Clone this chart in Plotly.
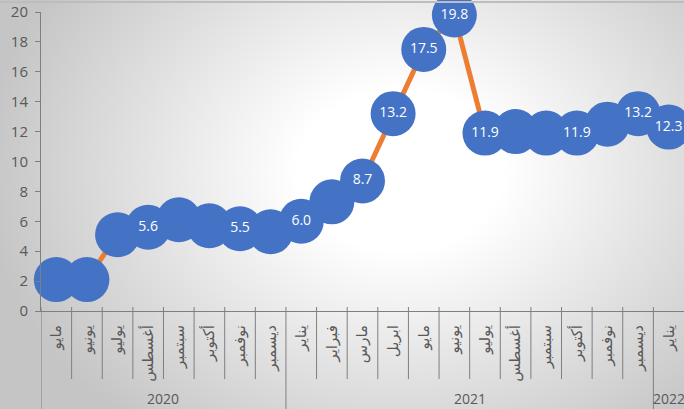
import base64
import struct
import zlib

import numpy as np
import plotly.graph_objects as go

# ---------------- data ----------------
months = ["مايو", "يونيو", "يوليو", "أغسطس", "سبتمبر", "أكتوبر", "نوفمبر", "ديسمبر",
          "يناير", "فبراير", "مارس", "ابريل", "مايو", "يونيو", "يوليو", "أغسطس",
          "سبتمبر", "أكتوبر", "نوفمبر", "ديسمبر", "يناير"]
years = ["2020", "2021", "2022"]
year_counts = [8, 12, 1]
values = [2.1, 2.1, 5.1, 5.6, 6.1, 5.7, 5.5, 5.3, 6.0, 7.3, 8.7, 13.2, 17.5, 19.8,
          11.9, 12.0, 11.9, 11.9, 12.5, 13.2, 12.3]
labels = ["", "", "", "5.6", "", "", "5.5", "", "6.0", "", "8.7", "13.2", "17.5", "19.8",
          "11.9", "", "", "11.9", "", "13.2", "12.3"]

# ---------------- geometry ----------------
W, H = 684, 409
ML, MR, MT, MB = 41, 0, 12, 98
PW, PH = W - ML - MR, H - MT - MB

# ---------------- background gradient image ----------------
yy, xx = np.mgrid[0:H, 0:W].astype(float)
cx, cy, rx, ry = 400.0, 170.0, 420.0, 330.0
t = np.sqrt(((xx - cx) / rx) ** 2 + ((yy - cy) / ry) ** 2)
g = np.clip((t - 0.25) / 0.75, 0, 1)
gray = (255 - 58 * g).astype(np.uint8)
raw = b"".join(b"\x00" + gray[r].tobytes() for r in range(H))


def chunk(tag, data):
    c = struct.pack(">I", len(data)) + tag + data
    return c + struct.pack(">I", zlib.crc32(tag + data) & 0xFFFFFFFF)


png = (b"\x89PNG\r\n\x1a\n" + chunk(b"IHDR", struct.pack(">IIBBBBB", W, H, 8, 0, 0, 0, 0))
       + chunk(b"IDAT", zlib.compress(raw, 9)) + chunk(b"IEND", b""))
bg_uri = "data:image/png;base64," + base64.b64encode(png).decode()

x = list(range(len(months)))
axis_col = "#7f7f7f"
txt_col = "#595959"

fig = go.Figure()
fig.add_trace(go.Scatter(
    x=x, y=values, mode="lines+markers+text",
    line=dict(color="#ED7D31", width=5),
    marker=dict(color="#4472C4", size=45, line=dict(width=0)),
    text=labels, textposition="middle center",
    textfont=dict(color="white", size=14, family="Open Sans"),
    cliponaxis=False, hoverinfo="skip", showlegend=False,
))

shapes = []
year_bounds = [-0.5]
acc = -0.5
for c in year_counts:
    acc += c
    year_bounds.append(acc)
for i in range(len(months)):
    b = i - 0.5
    is_year = any(abs(b - yb) < 1e-9 for yb in year_bounds)
    y0 = -(MB + 2) / PH if is_year else -68 / PH
    shapes.append(dict(type="line", xref="x", yref="paper", x0=b, x1=b, y0=4 / PH, y1=y0,
                       line=dict(color=axis_col, width=1)))
# top border line
shapes.append(dict(type="line", xref="paper", yref="paper", x0=-ML / PW, x1=1,
                   y0=1 + (MT - 2) / PH, y1=1 + (MT - 2) / PH,
                   line=dict(color="#bdbdbd", width=2)))

annotations = []
start = 0
for yr, c in zip(years, year_counts):
    center = start + (c - 1) / 2
    annotations.append(dict(x=center, y=-(398 - (MT + PH)) / PH, xref="x", yref="paper",
                            text=yr, showarrow=False, yanchor="middle",
                            font=dict(size=14, color=txt_col, family="Open Sans")))
    start += c

fig.update_layout(
    width=W, height=H,
    margin=dict(l=ML, r=MR, t=MT, b=MB, pad=0, autoexpand=False),
    paper_bgcolor="white", plot_bgcolor="rgba(0,0,0,0)",
    images=[dict(source=bg_uri, xref="paper", yref="paper", x=-ML / PW, y=1 + MT / PH,
                 sizex=W / PW, sizey=H / PH, xanchor="left", yanchor="top",
                 sizing="stretch", layer="below")],
    xaxis=dict(range=[-0.5, len(months) - 0.5], tickmode="array", tickvals=x, ticktext=months,
               tickangle=-90, ticks="", showgrid=False, zeroline=False, showline=True,
               linecolor=axis_col, linewidth=1, ticklabelstandoff=7, automargin=False,
               tickfont=dict(size=15, color=txt_col, family="DejaVu Sans")),
    yaxis=dict(range=[0, 20], tickvals=list(range(0, 21, 2)), ticks="outside", ticklen=5,
               tickcolor=axis_col, showgrid=False, zeroline=False, showline=True,
               linecolor=axis_col, linewidth=1, ticklabelstandoff=4, automargin=False,
               tickfont=dict(size=15, color=txt_col, family="Open Sans")),
    shapes=shapes, annotations=annotations,
)

fig.write_html("out.html", config={"displayModeBar": False, "staticPlot": True},
               post_script="document.body.style.margin='0';document.body.style.overflow='hidden';")
